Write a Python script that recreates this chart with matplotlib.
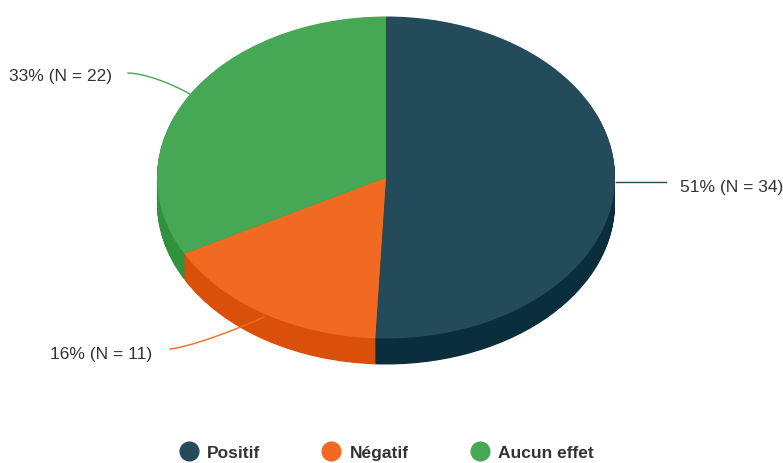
import matplotlib
matplotlib.use("Agg")
import matplotlib.pyplot as plt
from matplotlib.lines import Line2D
import numpy as np

categories = ["Positif", "Négatif", "Aucun effet"]
counts = [34, 11, 22]
labels = ["51% (N = 34)", "16% (N = 11)", "33% (N = 22)"]
top_colors = ["#234b5a", "#f26a22", "#46a855"]
side_colors = ["#0b2e3c", "#da500a", "#32913c"]

W, H = 783, 464
fig = plt.figure(figsize=(W / 100, H / 100), dpi=100)
ax = fig.add_axes([0, 0, 1, 1])

cx, cy = 386, 178.5      # pixel centre of top face
rx, ry = 229, 161        # pixel semi axes
depth = 26 / ry          # depth in y units

# side wall: stacked pies
n_layers = 40
for k in range(n_layers, 0, -1):
    off = depth * k / n_layers
    ax.pie(counts, colors=side_colors, startangle=90, counterclock=False,
           center=(0, -off), radius=1, frame=True,
           wedgeprops=dict(linewidth=0, antialiased=True))
# top face
wedges, _ = ax.pie(counts, colors=top_colors, startangle=90, counterclock=False,
                   center=(0, 0), radius=1, frame=True,
                   wedgeprops=dict(linewidth=0, antialiased=True))

ax.set_aspect("auto")
ax.set_xlim(-cx / rx, (W - cx) / rx)
ax.set_ylim(-(H - cy) / ry, cy / ry)
ax.axis("off")

def px(x, y):
    return ((x - cx) / rx, (cy - y) / ry)

txt = dict(fontsize=12.5, color="#333333", family="Liberation Sans", va="center")

# Positif label
ax.plot(*zip(px(616, 183), px(666, 183)), color="#234b5a", lw=1)
ax.text(*px(680, 188), labels[0], ha="left", **txt)

# Aucun effet label
t = np.linspace(0, 1, 30)
xs = 128 + (190 - 128) * t
ys = 74 + (95 - 74) * t ** 1.6
ax.plot((xs - cx) / rx, (cy - ys) / ry, color="#46a855", lw=1)
ax.text(*px(112, 77), labels[2], ha="right", **txt)

# Négatif label
xs = 170 + (264 - 170) * t
ys = 350 - (350 - 318) * t ** 1.3
ax.plot((xs - cx) / rx, (cy - ys) / ry, color="#f26a22", lw=1)
ax.text(*px(152, 355), labels[1], ha="right", **txt)

handles = [Line2D([0], [0], marker="o", linestyle="none", markersize=13.5,
                  markerfacecolor=c, markeredgecolor=c) for c in top_colors]
leg = ax.legend(handles, categories, loc="center", ncol=3,
                bbox_to_anchor=(387 / W, (H - 453) / H), bbox_transform=fig.transFigure,
                frameon=False, handlelength=1.0, handletextpad=0.55,
                columnspacing=3.6, borderpad=0,
                prop=dict(family="Liberation Sans", weight="bold", size=12.5))
for tx in leg.get_texts():
    tx.set_color("#333333")

fig.savefig("out.png", dpi=100)
